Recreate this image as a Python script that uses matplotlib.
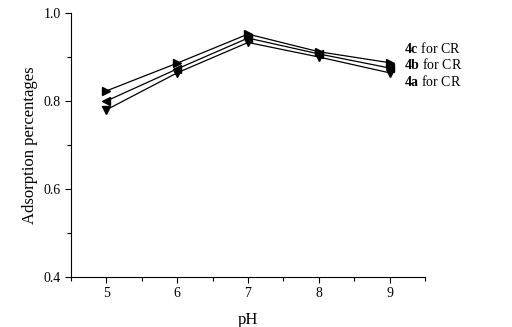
import matplotlib
matplotlib.use("Agg")
import matplotlib.pyplot as plt
from matplotlib.ticker import MultipleLocator

plt.rcParams['font.family'] = ['Liberation Serif', 'DejaVu Serif']
plt.rcParams['mathtext.fontset'] = 'custom'
plt.rcParams['mathtext.rm'] = 'Liberation Serif'
plt.rcParams['mathtext.bf'] = 'Liberation Serif:bold'

# data
ph = [5, 6, 7, 8, 9]
ads_4a = [0.780, 0.864, 0.933, 0.900, 0.864]
ads_4b = [0.800, 0.873, 0.943, 0.907, 0.875]
ads_4c = [0.823, 0.886, 0.952, 0.912, 0.887]
labels = ['4c', '4b', '4a']

fig = plt.figure(figsize=(5.12, 3.27), dpi=100)
ax = fig.add_axes([71 / 512, 1 - 277 / 327, (425 - 71) / 512, (277 - 13) / 327])

ax.plot(ph, ads_4c, color='black', lw=0.9, marker='>', ms=6)
ax.plot(ph, ads_4b, color='black', lw=0.9, marker='<', ms=6)
ax.plot(ph, ads_4a, color='black', lw=0.9, marker='v', ms=6)

# labels next to the last points
for lab, yv in zip(labels, [0.920, 0.882, 0.845]):
    ax.text(9.2, yv, r'$\mathbf{%s}$ for CR' % lab, fontsize=10, va='center', ha='left')

ax.set_xlim(4.5, 9.5)
ax.set_ylim(0.4, 1.0)
ax.xaxis.set_major_locator(MultipleLocator(1))
ax.xaxis.set_minor_locator(MultipleLocator(0.5))
ax.yaxis.set_major_locator(MultipleLocator(0.2))
ax.yaxis.set_minor_locator(MultipleLocator(0.1))
ax.yaxis.set_major_formatter(matplotlib.ticker.FormatStrFormatter('%.1f'))
ax.tick_params(which='both', direction='out', labelsize=10, width=0.8)
ax.tick_params(which='major', length=4)
ax.tick_params(which='minor', length=3)
ax.spines['top'].set_visible(False)
ax.spines['right'].set_visible(False)

ax.set_xlabel('pH', fontsize=12, labelpad=8)
ax.set_ylabel('Adsorption percentages', fontsize=12)

fig.savefig('out.png', dpi=100)
